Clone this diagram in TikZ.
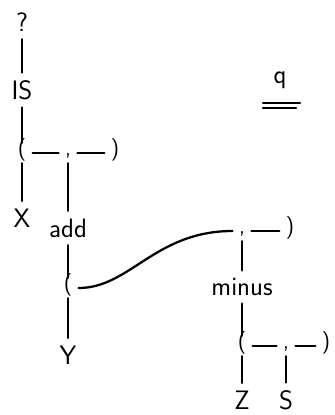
\documentclass[tikz,border=0pt]{standalone}
\begin{document}
\begin{tikzpicture}[x=0.75pt, y=-0.75pt, line width=1.7pt, line cap=round,
        word/.style={inner sep=5pt, font=\sffamily\fontsize{20}{24}\selectfont},
        punct/.style={inner sep=4pt, text height=1.1ex, text depth=0.2ex, font=\sffamily\fontsize{17}{20}\selectfont}
    ]
    \useasboundingbox (0,0) rectangle (335,415);

    % Titel
    \node[word] (title) at (280,80) {q};
    \draw (263,103) -- (300,103);
    \draw (263,108) -- (296,108);

    % ? IS
    \node[word] (qm) at (22,22) {?};
    \node[word] (is) at (22,90) {IS};
    \draw (qm) -- (is);

    % Liste 1
    \node[punct] (lp1) at (22,153) {(};
    \node[punct] (cm1) at (68,153) {,};
    \node[punct] (rp1) at (115,153) {)};
    \draw (is) -- (lp1);
    \draw (lp1) -- (cm1);
    \draw (cm1) -- (rp1);
    \node[word] (x) at (22,218) {X};
    \node[word] (add) at (68,228) {add};
    \draw (lp1) -- (x);
    \draw (cm1) -- (add);

    % Liste 2
    \node[punct] (lp2) at (68,288) {(};
    \node[word] (y) at (68,355) {Y};
    \draw (add) -- (lp2);
    \draw (lp2) -- (y);
    \node[punct] (cm2) at (242,231) {,};
    \node[punct] (rp2) at (290,231) {)};
    \draw (lp2.east) .. controls (130,288) and (155,231) .. (cm2.west);
    \draw (cm2) -- (rp2);
    \node[word] (minus) at (242,287) {minus};
    \draw (cm2) -- (minus);

    % Liste 3
    \node[punct] (lp3) at (242,346) {(};
    \node[punct] (cm3) at (286,346) {,};
    \node[punct] (rp3) at (326,346) {)};
    \draw (minus) -- (lp3);
    \draw (lp3) -- (cm3);
    \draw (cm3) -- (rp3);
    \node[word] (z) at (242,400) {Z};
    \node[word] (s) at (286,400) {S};
    \draw (lp3) -- (z);
    \draw (cm3) -- (s);
\end{tikzpicture}
\end{document}
